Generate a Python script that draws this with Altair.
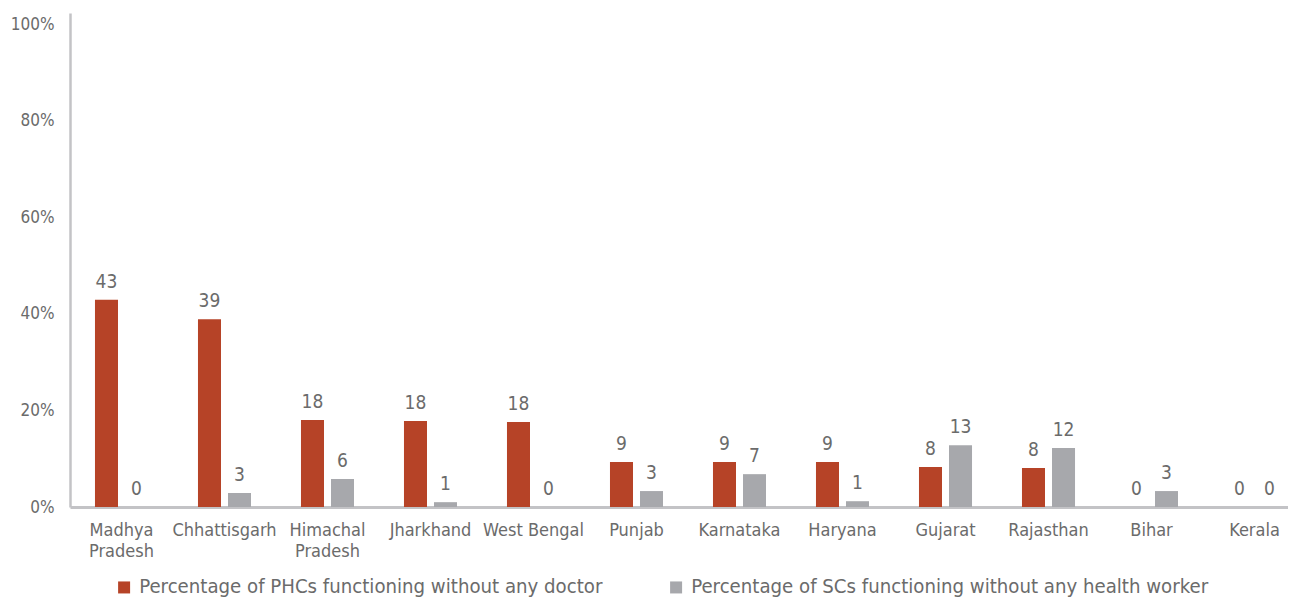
import altair as alt
import pandas as pd

states = ["Madhya Pradesh", "Chhattisgarh", "Himachal Pradesh", "Jharkhand", "West Bengal",
          "Punjab", "Karnataka", "Haryana", "Gujarat", "Rajasthan", "Bihar", "Kerala"]
phc_no_doctor = [42.9, 38.9, 18.0, 17.8, 17.6, 9.3, 9.3, 9.3, 8.3, 8.1, 0.0, 0.0]
sc_no_worker = [0.0, 2.9, 5.8, 1.0, 0.0, 3.3, 6.8, 1.2, 12.8, 12.2, 3.3, 0.0]
series_names = ["Percentage of PHCs functioning without any doctor",
                "Percentage of SCs functioning without any health worker"]
colors = ["#B64327", "#A7A8AC"]
y_ticks = [0, 20, 40, 60, 80, 100]

rows = []
for i, s in enumerate(states):
    rows.append({"state": s, "series": series_names[0], "value": phc_no_doctor[i]})
    rows.append({"state": s, "series": series_names[1], "value": sc_no_worker[i]})
df = pd.DataFrame(rows)

FONT = "DejaVu Sans Condensed, sans-serif"
TXT = "#6b6b6b"

x_enc = alt.X("state:N", sort=states, title=None,
              scale=alt.Scale(paddingInner=0.485, paddingOuter=0.2425, range=[0, 1236]),
              axis=alt.Axis(labelAngle=0, ticks=False, domainColor="#C3C3C6", domainWidth=3,
                            labelFontSize=18, labelColor=TXT, labelFont=FONT, labelPadding=14,
                            labelLineHeight=21, labelLimit=200,
                            labelExpr="datum.label == 'Madhya Pradesh' || datum.label == 'Himachal Pradesh' ? split(datum.label, ' ') : datum.label"))
xo_enc = alt.XOffset("series:N", sort=series_names,
                     scale=alt.Scale(paddingInner=0.233, paddingOuter=0))
y_enc = alt.Y("value:Q", title=None,
              scale=alt.Scale(domain=[0, 102.3], nice=False),
              axis=alt.Axis(values=y_ticks, grid=False, ticks=False, domainColor="#C3C3C6",
                            domainWidth=2.5, labelFontSize=17, labelColor=TXT, labelFont=FONT,
                            labelPadding=16, labelExpr="datum.value + '%'"))

bars = alt.Chart(df).mark_bar().encode(
    x=x_enc, xOffset=xo_enc, y=y_enc,
    color=alt.Color("series:N", sort=series_names,
                    scale=alt.Scale(domain=series_names, range=colors),
                    legend=alt.Legend(title=None, orient="none", direction="horizontal",
                                      legendX=44, legendY=564, symbolType="square",
                                      symbolSize=144, symbolStrokeWidth=0,
                                      labelFontSize=20.2, labelColor=TXT, labelFont=FONT,
                                      labelLimit=600, columnPadding=63, symbolOffset=0,
                                      labelOffset=5, padding=0))
)

labels = alt.Chart(df).mark_text(baseline="bottom", dy=-8, fontSize=19, color=TXT, font=FONT).encode(
    x=alt.X("state:N", sort=states), xOffset=alt.XOffset("series:N", sort=series_names),
    y="value:Q",
    text=alt.Text("value:Q", format=".0f"),
)

chart = alt.layer(bars, labels).properties(
    width=1218, height=494,
    autosize=alt.AutoSizeParams(type="none"),
    padding={"left": 62, "top": 5, "right": 0, "bottom": 91},
).configure_view(stroke=None)

chart.save("out.html", embed_options={"renderer": "svg", "actions": False})
